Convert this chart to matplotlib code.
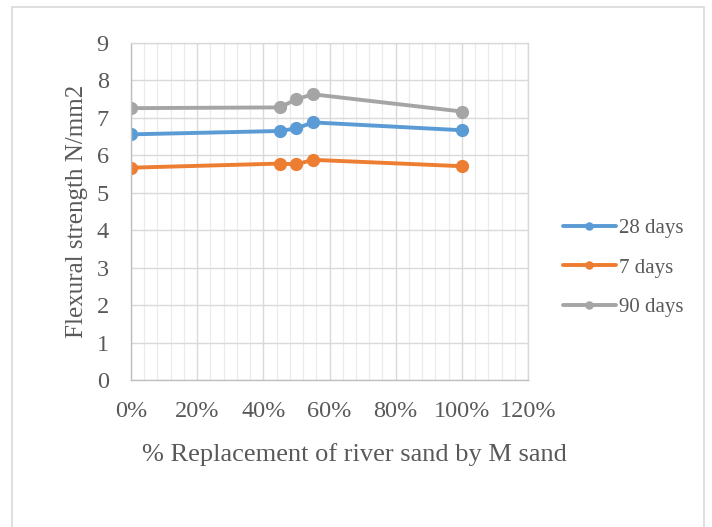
import matplotlib
matplotlib.use("Agg")
from matplotlib import pyplot as plt
from matplotlib.ticker import MultipleLocator, FuncFormatter
from matplotlib.patches import Rectangle

# replacement level (fraction of river sand replaced)
replacement = [0.0, 0.45, 0.50, 0.55, 1.0]

# flexural strength, N/mm2
days_28 = [6.56, 6.65, 6.72, 6.88, 6.67]
days_7 = [5.67, 5.78, 5.76, 5.88, 5.71]
days_90 = [7.26, 7.28, 7.50, 7.63, 7.17]

series_names = ["28 days", "7 days", "90 days"]
series_colors = ["#5b9bd5", "#ed7d31", "#a5a5a5"]

plt.rcParams["font.family"] = ["Liberation Serif", "DejaVu Serif"]

W, H = 712, 527
fig = plt.figure(figsize=(W / 100, H / 100), dpi=100)
ax = fig.add_axes([131 / W, 1 - 380 / H, (528 - 131) / W, (380 - 43) / H])

for vals, name, col in zip([days_28, days_7, days_90], series_names, series_colors):
    ax.plot(replacement, vals, color=col, lw=2.8, marker="o", ms=8.5,
            label=name, solid_capstyle="round")

ax.set_xlim(0, 1.2)
ax.set_ylim(0, 9)
ax.xaxis.set_major_locator(MultipleLocator(0.2))
ax.xaxis.set_minor_locator(MultipleLocator(0.04))
ax.yaxis.set_major_locator(MultipleLocator(1))
ax.xaxis.set_major_formatter(FuncFormatter(lambda v, p: "{:.0f}%".format(v * 100)))

ax.grid(which="major", color="#d9d9d9", lw=1.0)
ax.grid(which="minor", axis="x", color="#ebebeb", lw=0.9)
ax.set_axisbelow(True)
for s in ax.spines.values():
    s.set_color("#d9d9d9")
    s.set_linewidth(1.0)
ax.spines["bottom"].set_color("#bfbfbf")
ax.spines["left"].set_color("#bfbfbf")

ax.tick_params(which="both", length=0, labelsize=17.5, colors="#595959")
ax.tick_params(axis="x", pad=15)
ax.tick_params(axis="y", pad=16)

ax.set_ylabel("Flexural strength N/mm2", fontsize=18, color="#595959", labelpad=6)
fig.text(354 / W, 1 - 455 / H, "% Replacement of river sand by M sand",
         fontsize=19, color="#595959", ha="center", va="center")

leg = ax.legend(loc="center left", bbox_to_anchor=(553 / W, 1 - 268 / H),
                bbox_transform=fig.transFigure, frameon=False, fontsize=15,
                handlelength=2.5, handletextpad=0.15, labelspacing=0.95,
                markerscale=0.6, borderpad=0)
for t in leg.get_texts():
    t.set_color("#595959")

# light frame around the chart
fig.patches.append(Rectangle((12 / W, -0.05), (704 - 12) / W, 1 - 7 / H + 0.05,
                             transform=fig.transFigure, fill=False,
                             edgecolor="#d9d9d9", lw=1.2))

fig.savefig("out.png", dpi=100)
